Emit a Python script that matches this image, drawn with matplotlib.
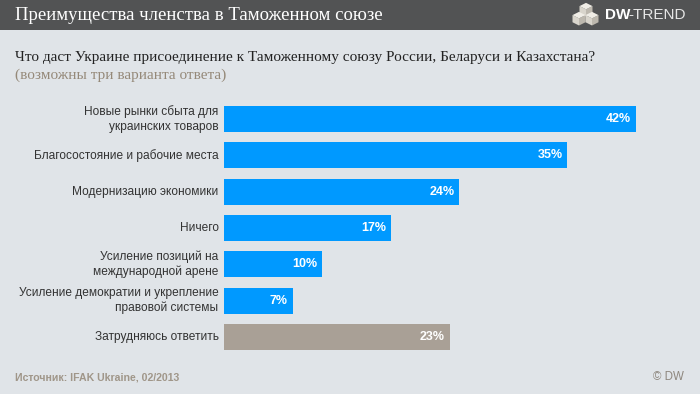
import matplotlib.pyplot as plt
from matplotlib.patches import Rectangle, Polygon

# survey answers, top to bottom
answers = [
    "Новые рынки сбыта для\nукраинских товаров",
    "Благосостояние и рабочие места",
    "Модернизацию экономики",
    "Ничего",
    "Усиление позиций на\nмеждународной арене",
    "Усиление демократии и укрепление\nправовой системы",
    "Затрудняюсь ответить",
]
shares = [42, 35, 24, 17, 10, 7, 23]
bar_colors = ["#0099FF"] * 6 + ["#A9A096"]

title = "Преимущества членства в Таможенном союзе"
question = "Что даст Украине присоединение к Таможенному союзу России, Беларуси и Казахстана?"
note = "(возможны три варианта ответа)"
source = "Источник: IFAK Ukraine, 02/2013"

W, H = 700, 394
bg = "#E0E4E8"

fig = plt.figure(figsize=(W / 100, H / 100), dpi=100, facecolor=bg)

def px(x, y):
    # pixel coords (from top-left) -> figure fraction
    return x / W, 1 - y / H

# header band
fig.patches.append(Rectangle((0, 1 - 30 / H), 1, 30 / H, transform=fig.transFigure,
                             facecolor="#525354", edgecolor="none"))
fig.text(*px(15, 16), title, color="white", fontsize=13.5, family="Liberation Serif",
         va="center", ha="left")

# logo: little cube stack + DW-TREND
def cube(cx, cy, s):
    pts_top = [(cx, cy - s * 0.55), (cx + s * 0.5, cy - s * 0.3), (cx, cy - s * 0.05), (cx - s * 0.5, cy - s * 0.3)]
    pts_left = [(cx - s * 0.5, cy - s * 0.3), (cx, cy - s * 0.05), (cx, cy + s * 0.5), (cx - s * 0.5, cy + s * 0.25)]
    pts_right = [(cx + s * 0.5, cy - s * 0.3), (cx, cy - s * 0.05), (cx, cy + s * 0.5), (cx + s * 0.5, cy + s * 0.25)]
    for pts, c in [(pts_left, "#D9D5CC"), (pts_right, "#BDB8AE"), (pts_top, "#F0EDE6")]:
        fig.patches.append(Polygon([px(x, y) for x, y in pts], closed=True,
                                   transform=fig.transFigure, facecolor=c, edgecolor="none"))

cube(586, 10, 13)
cube(579, 19, 13)
cube(592, 19, 13)
fig.text(*px(605, 15), "DW", color="white", fontsize=11, fontweight="bold",
         family="Liberation Sans", va="center", ha="left")
fig.text(*px(628, 15), "-TREND", color="#E6E6E6", fontsize=11,
         family="Liberation Sans", va="center", ha="left")

# question text
fig.text(*px(15, 57), question, color="#222222", fontsize=11, family="Liberation Serif",
         va="center", ha="left")
fig.text(*px(15, 75), note, color="#958979", fontsize=11, family="Liberation Serif",
         va="center", ha="left")

# bar axes: x from 224 px, 9.81 px per percent; rows 36.33 px apart starting at 119
pitch = 36.33
ax_left, ax_right = 224, 680
ax_top, ax_bot = 119 - pitch / 2, 119 + pitch * 6.5
ax = fig.add_axes([ax_left / W, 1 - ax_bot / H, (ax_right - ax_left) / W, (ax_bot - ax_top) / H])
ax.set_facecolor("none")
ax.set_xlim(0, (ax_right - ax_left) / 9.81)
ax.set_ylim(len(shares) - 0.5, -0.5)

ypos = list(range(len(shares)))
ax.barh(ypos, shares, height=26 / pitch, color=bar_colors, edgecolor="none")

for y, v, lab in zip(ypos, shares, answers):
    ax.text(v - 0.5, y, f"{v}%", color="white", fontsize=9, fontweight="bold",
            family="Liberation Sans", va="center", ha="right")
    ax.text(-0.55, y, lab, color="#333333", fontsize=8.6, family="Liberation Sans",
            va="center", ha="right", linespacing=1.3)

ax.set_xticks([])
ax.set_yticks([])
for s in ax.spines.values():
    s.set_visible(False)

# footer
fig.text(*px(15, 377), source, color="#A09689", fontsize=7.6, fontweight="bold",
         family="Liberation Sans", va="center", ha="left")
fig.text(*px(684, 377), "© DW", color="#8E877E", fontsize=8.3,
         family="Liberation Sans", va="center", ha="right")

fig.savefig("out.png", dpi=100, facecolor=bg)
